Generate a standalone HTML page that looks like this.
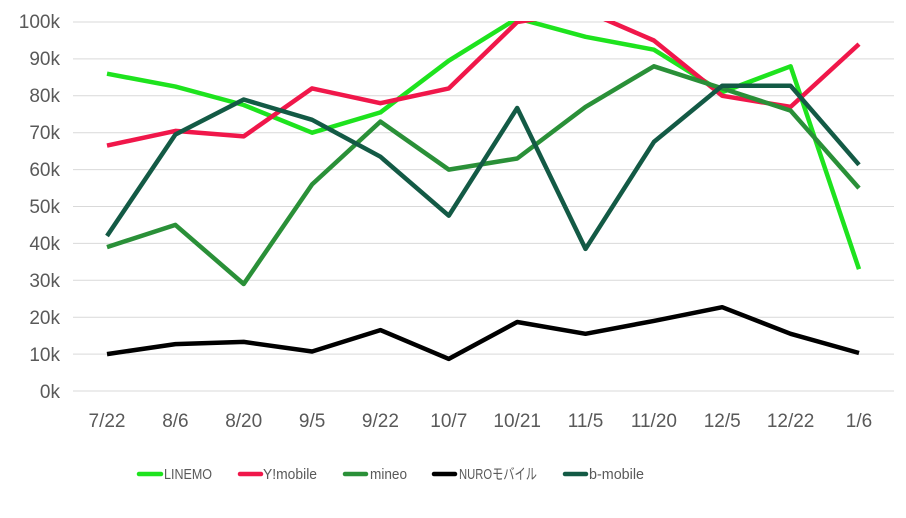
<!DOCTYPE html>
<html><head><meta charset="utf-8"><style>
body{margin:0;background:#fff;}
svg text{font-family:"Liberation Sans","Noto Sans CJK JP",sans-serif;fill:#595959;}
</style></head><body>
<svg width="906" height="513" viewBox="0 0 906 513" xmlns="http://www.w3.org/2000/svg">
<defs><clipPath id="c"><rect x="70" y="21" width="830" height="380"/></clipPath></defs>
<g stroke="#d9d9d9" stroke-width="1">
<line x1="73" x2="894" y1="22" y2="22"/><line x1="73" x2="894" y1="58.9" y2="58.9"/>
<line x1="73" x2="894" y1="95.8" y2="95.8"/><line x1="73" x2="894" y1="132.7" y2="132.7"/>
<line x1="73" x2="894" y1="169.6" y2="169.6"/><line x1="73" x2="894" y1="206.5" y2="206.5"/>
<line x1="73" x2="894" y1="243.4" y2="243.4"/><line x1="73" x2="894" y1="280.3" y2="280.3"/>
<line x1="73" x2="894" y1="317.2" y2="317.2"/><line x1="73" x2="894" y1="354.1" y2="354.1"/>
<line x1="73" x2="894" y1="391" y2="391"/>
</g>
<g font-size="19" text-anchor="end">
<text x="60" y="28">100k</text><text x="60" y="65">90k</text><text x="60" y="102">80k</text>
<text x="60" y="139">70k</text><text x="60" y="176">60k</text><text x="60" y="213">50k</text>
<text x="60" y="250">40k</text><text x="60" y="287">30k</text><text x="60" y="324">20k</text>
<text x="60" y="361">10k</text><text x="60" y="398">0k</text>
</g>
<g font-size="19" text-anchor="middle">
<text x="107" y="427">7/22</text><text x="175.4" y="427">8/6</text><text x="243.7" y="427">8/20</text>
<text x="312.1" y="427">9/5</text><text x="380.4" y="427">9/22</text><text x="448.8" y="427">10/7</text>
<text x="517.2" y="427">10/21</text><text x="585.5" y="427">11/5</text><text x="653.9" y="427">11/20</text>
<text x="722.2" y="427">12/5</text><text x="790.6" y="427">12/22</text><text x="859" y="427">1/6</text>
</g>
<g fill="none" stroke-width="4.5" stroke-linejoin="round" clip-path="url(#c)">
<polyline stroke="#1ee31e" points="107,73.7 175.4,86.6 243.7,105 312.1,132.7 380.4,112.4 448.8,60.7 517.2,18.3 585.5,36.8 653.9,49.7 722.2,92.1 790.6,66.3 859,269.2"/>
<polyline stroke="#f0174a" points="107,145.6 175.4,130.9 243.7,136.4 312.1,88.4 380.4,103.2 448.8,88.4 517.2,22 585.5,10.9 653.9,40.5 722.2,95.8 790.6,106.9 859,44.1"/>
<polyline stroke="#2a9038" points="107,247.1 175.4,224.9 243.7,284 312.1,184.4 380.4,121.6 448.8,169.6 517.2,158.5 585.5,106.9 653.9,66.3 722.2,88.4 790.6,110.6 859,188.1"/>
<polyline stroke="#000" points="107,354.1 175.4,344.1 243.7,341.9 312.1,351.5 380.4,330.1 448.8,358.9 517.2,322 585.5,333.8 653.9,320.9 722.2,307.2 790.6,333.8 859,353"/>
<polyline stroke="#135a45" points="107,236 175.4,134.5 243.7,99.5 312.1,119.8 380.4,156.7 448.8,215.7 517.2,108 585.5,248.9 653.9,141.9 722.2,85.8 790.6,85.8 859,164.8"/>
</g>
<g stroke-width="4.5" stroke-linecap="round">
<line x1="139" x2="161" y1="474" y2="474" stroke="#1ee31e"/>
<line x1="240" x2="261" y1="474" y2="474" stroke="#f0174a"/>
<line x1="345" x2="366" y1="474" y2="474" stroke="#2a9038"/>
<line x1="434" x2="455" y1="474" y2="474" stroke="#000"/>
<line x1="565" x2="586" y1="474" y2="474" stroke="#135a45"/>
</g>
<g font-size="15" fill="#404040">
<text x="164" y="479" textLength="48" lengthAdjust="spacingAndGlyphs">LINEMO</text>
<text x="263" y="479" textLength="54" lengthAdjust="spacingAndGlyphs">Y!mobile</text>
<text x="370" y="479" textLength="37" lengthAdjust="spacingAndGlyphs">mineo</text>
<text x="459" y="479" textLength="78" lengthAdjust="spacingAndGlyphs">NUROモバイル</text>
<text x="589" y="479" textLength="55" lengthAdjust="spacingAndGlyphs">b-mobile</text>
</g>
</svg>
</body></html>
